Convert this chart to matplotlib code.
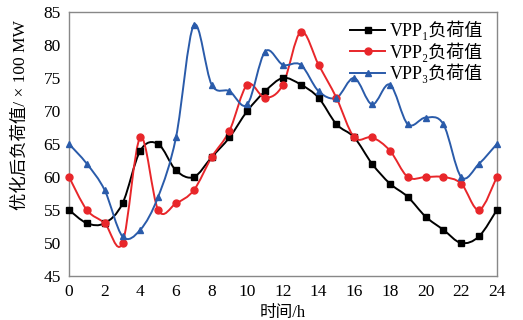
import numpy as np
import matplotlib
matplotlib.use('Agg')
import matplotlib.pyplot as plt
from matplotlib.path import Path
from matplotlib.patches import PathPatch
from matplotlib.lines import Line2D

plt.rcParams['font.family'] = ['Liberation Serif', 'Noto Sans CJK SC']

hours = list(range(25))
vpp1 = [55, 53, 53, 56, 64, 65, 61, 60, 63, 66, 70, 73, 75, 74, 72, 68, 66, 62, 59, 57, 54, 52, 50, 51, 55]
vpp2 = [60, 55, 53, 50, 66, 55, 56, 58, 63, 67, 74, 72, 74, 82, 77, 72, 66, 66, 64, 60, 60, 60, 59, 55, 60]
vpp3 = [65, 62, 58, 51, 52, 57, 66, 83, 74, 73, 71, 79, 77, 77, 73, 72, 75, 71, 74, 68, 69, 68, 60, 62, 65]

labels = ['VPP\u2081负荷值', 'VPP\u2082负荷值', 'VPP\u2083负荷值']
colors = ['#000000', '#E8262A', '#2A5BAA']
markers = ['s', 'o', '^']


def smooth_path(x, y):
    # Excel-style smoothed line as cubic Bezier segments
    p = np.column_stack([x, y]).astype(float)
    n = len(p)
    verts = [p[0]]
    codes = [Path.MOVETO]
    for i in range(n - 1):
        p0 = p[i - 1] if i > 0 else p[i]
        p1 = p[i]
        p2 = p[i + 1]
        p3 = p[i + 2] if i + 2 < n else p[i + 1]
        c1 = p1 + (p2 - p0) / 6
        c2 = p2 - (p3 - p1) / 6
        verts += [c1, c2, p2]
        codes += [Path.CURVE4] * 3
    return Path(verts, codes)


fig = plt.figure(figsize=(5.23, 3.20), dpi=100)
ax = fig.add_axes([0.132, 0.1375, 0.818, 0.825])

handles = []
for ys, c, m, lab in zip([vpp1, vpp2, vpp3], colors, markers, labels):
    ax.add_patch(PathPatch(smooth_path(hours, ys), fill=False, edgecolor=c, lw=1.4, zorder=2))
    ax.plot(hours, ys, linestyle='none', marker=m, color=c, markersize=5, zorder=3, clip_on=False)
    handles.append(Line2D([], [], color=c, lw=1.4, marker=m, markersize=5, label=lab))

ax.set_xlim(0, 24)
ax.set_ylim(45, 85)
ax.set_xticks(range(0, 25, 2))
ax.set_yticks(range(45, 86, 5))
ax.tick_params(length=0, labelsize=12.5, pad=6)
for s in ax.spines.values():
    s.set_color('#888888')
    s.set_linewidth(1.0)

ax.set_xlabel('时间/h', fontsize=12, labelpad=3)
ax.set_ylabel('优化后负荷值/ × 100 MW', fontsize=12.5)
ax.yaxis.set_label_coords(-0.093, 0.61)

ax.legend(handles=handles, loc='upper right', frameon=False, fontsize=13,
          handlelength=1.9, handletextpad=0.3, labelspacing=0.1,
          borderaxespad=0.1, bbox_to_anchor=(0.99, 1.0))

fig.savefig('out.png', dpi=100)
